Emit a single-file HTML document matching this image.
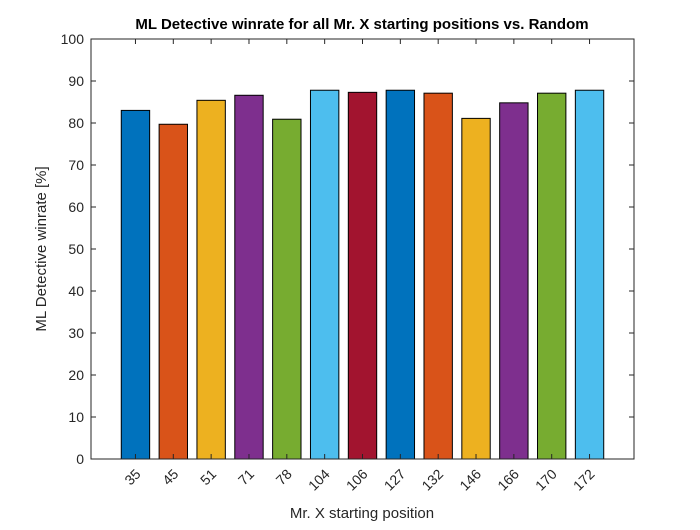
<!DOCTYPE html>
<html><head><meta charset="utf-8"><style>
body{margin:0;background:#fff;}
svg text{font-family:"Liberation Sans",Arial,sans-serif;fill:#262626;}
</style></head><body>
<svg id="chart" width="700" height="525" viewBox="0 0 700 525" xmlns="http://www.w3.org/2000/svg">
<rect x="0" y="0" width="700" height="525" fill="#fff"/>
<rect x="91" y="39" width="543" height="420" fill="#fff"/>
<g id="bars"></g>
<g id="axes"></g>
<text x="362" y="29" text-anchor="middle" font-size="15" font-weight="bold" style="fill:#000">ML Detective winrate for all Mr. X starting positions vs. Random</text>
<text transform="translate(46,249) rotate(-90)" text-anchor="middle" font-size="15">ML Detective winrate [%]</text>
<text x="362" y="518" text-anchor="middle" font-size="15">Mr. X starting position</text>
</svg>
<script>
const categories=["35","45","51","71","78","104","106","127","132","146","166","170","172"];
const winrates=[83.0,79.7,85.4,86.6,80.9,87.8,87.3,87.8,87.1,81.1,84.8,87.1,87.8];
const yTicks=[0,10,20,30,40,50,60,70,80,90,100];
const colors=["#0072BD","#D95319","#EDB120","#7E2F8E","#77AC30","#4DBEEE","#A2142F"];
const NS="http://www.w3.org/2000/svg";
const L=91,R=634,T=39,B=459;
const slots=categories.length+1.35;
const step=(R-L)/slots;
function xPos(i){return L+step*(1.175+i);}
function yPos(v){return B-(v-0)/(100-0)*(B-T);}
const bars=document.getElementById('bars'),axes=document.getElementById('axes');
const bw=step*0.75;
winrates.forEach((v,i)=>{
 const r=document.createElementNS(NS,'rect');
 
 
 r.setAttribute('x',xPos(i)-bw/2);r.setAttribute('y',yPos(v));
 r.setAttribute('width',bw);r.setAttribute('height',yPos(0)-yPos(v));
 r.setAttribute('fill',colors[i%colors.length]);r.setAttribute('stroke','#000');r.setAttribute('stroke-width','1');
 bars.appendChild(r);
});
const box=document.createElementNS(NS,'rect');


box.setAttribute('x',L);box.setAttribute('y',T);box.setAttribute('width',R-L);box.setAttribute('height',B-T);
box.setAttribute('fill','none');box.setAttribute('stroke','#262626');box.setAttribute('stroke-width','1');
axes.appendChild(box);
function line(x1,y1,x2,y2){const l=document.createElementNS(NS,'line');l.setAttribute('x1',x1);l.setAttribute('y1',y1);l.setAttribute('x2',x2);l.setAttribute('y2',y2);l.setAttribute('stroke','#262626');axes.appendChild(l);return l;}
yTicks.forEach(t=>{
 const y=yPos(t);line(L,y,L+5,y);line(R,y,R-5,y);
 const tx=document.createElementNS(NS,'text');
 
 
 tx.setAttribute('x',L-7);tx.setAttribute('y',y+5);tx.setAttribute('text-anchor','end');tx.setAttribute('font-size','14');
 tx.textContent=t;axes.appendChild(tx);
});
categories.forEach((c,i)=>{
 const x=xPos(i);line(x,B,x,B-5);line(x,T,x,T+5);
 const tx=document.createElementNS(NS,'text');
 
 
 tx.setAttribute('transform','translate('+(x+6)+','+(B+16)+') rotate(-45)');
 tx.setAttribute('text-anchor','end');tx.setAttribute('font-size','14');
 tx.textContent=c;axes.appendChild(tx);
});
</script>
</body></html>
